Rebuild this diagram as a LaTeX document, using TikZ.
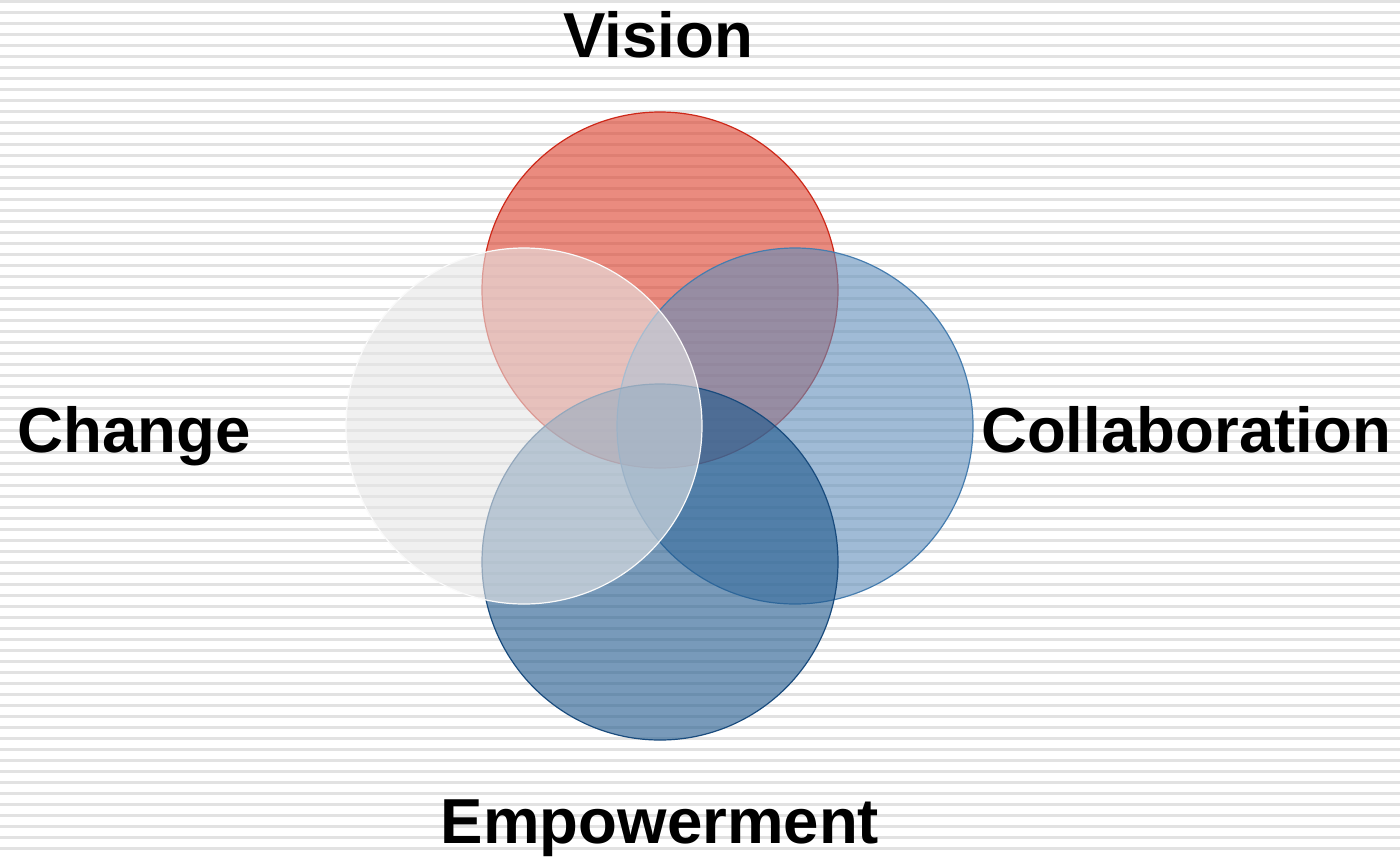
\documentclass[tikz,border=0pt]{standalone}
\usepackage{fontspec}
\setmainfont{Liberation Sans}
\definecolor{stripecol}{RGB}{226,226,226}
\definecolor{visfill}{RGB}{220,62,42}
\definecolor{visline}{RGB}{205,40,25}
\definecolor{colfill}{RGB}{97,143,187}
\definecolor{colline}{RGB}{70,125,175}
\definecolor{empfill}{RGB}{30,88,140}
\definecolor{empline}{RGB}{25,75,125}
\definecolor{chgfill}{RGB}{230,230,230}
\definecolor{chgline}{RGB}{250,250,250}
\tikzset{
  venn/.style={circle, minimum size=178pt, inner sep=0pt, fill opacity=0.6, line width=0.6pt},
  lab/.style={font=\fontsize{31.8}{36}\selectfont\bfseries, text=black, inner sep=0pt, anchor=base}
}
\begin{document}
\begin{tikzpicture}[x=0.5pt,y=-0.5pt]
\useasboundingbox (0,0) rectangle (1400,857);
\fill[white] (0,0) rectangle (1400,857);
\foreach \k in {0,...,77} {
  \fill[stripecol] (0,11*\k) rectangle (1400,11*\k+3);
}
\node[venn, fill=visfill, draw=visline] (vision) at (660,290) {};
\node[venn, fill=colfill, draw=colline] (collab) at (795,426) {};
\node[venn, fill=empfill, draw=empline] (empower) at (660,562) {};
\node[venn, fill=chgfill, draw=chgline] (change) at (524,426) {};
\node[lab] (tvision) at (658,57) {Vision};
\node[lab] (tchange) at (134,452) {Change};
\node[lab] (tcollab) at (1186,452) {Collaboration};
\node[lab] (tempower) at (660,843) {Empowerment};
\end{tikzpicture}
\end{document}
